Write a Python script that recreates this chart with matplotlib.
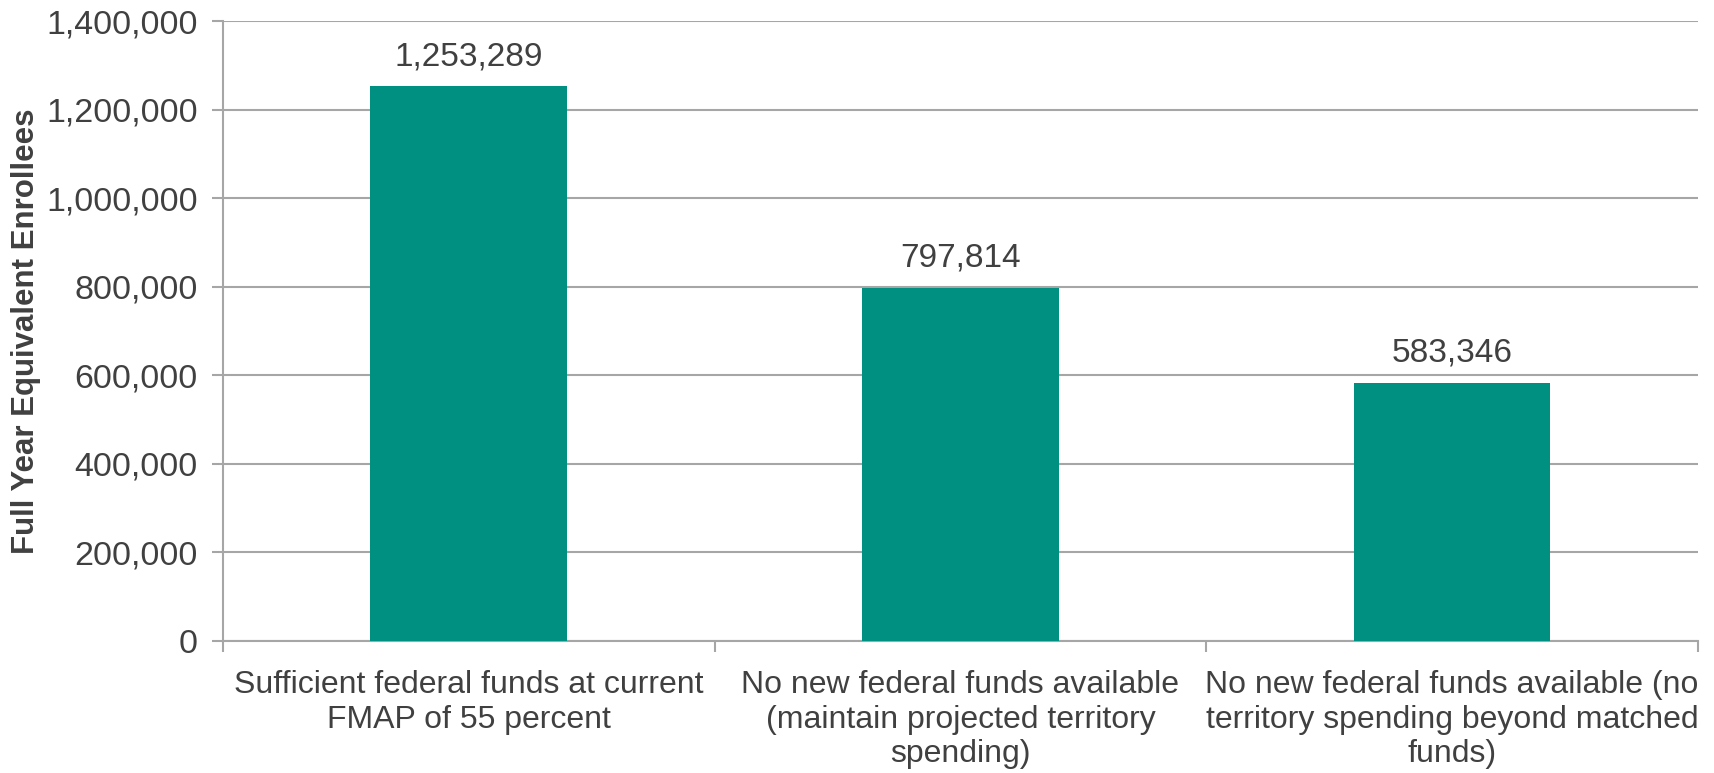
import matplotlib
matplotlib.use("Agg")
import matplotlib.pyplot as plt
from matplotlib.ticker import FuncFormatter, FixedLocator

categories = [
    "Sufficient federal funds at current\nFMAP of 55 percent",
    "No new federal funds available\n(maintain projected territory\nspending)",
    "No new federal funds available (no\nterritory spending beyond matched\nfunds)",
]
values = [1253289, 797814, 583346]
yticks = [0, 200000, 400000, 600000, 800000, 1000000, 1200000, 1400000]
ylabel = "Full Year Equivalent Enrollees"

bar_color = "#009081"
text_color = "#404040"
grid_color = "#A6A6A6"

plt.rcParams["font.family"] = ["Liberation Sans", "DejaVu Sans"]

fig = plt.figure(figsize=(17.15, 7.73), dpi=100)
ax = fig.add_axes([0.130, 0.1708, 0.860, 0.802])

x = list(range(len(categories)))
ax.bar(x, values, width=0.4, color=bar_color, zorder=3)

for xi, v in zip(x, values):
    ax.annotate(f"{v:,}", (xi, v), xytext=(0, 10), textcoords="offset points",
                ha="center", va="bottom", fontsize=24, color=text_color)

ax.set_xlim(-0.5, 2.5)
ax.set_ylim(0, 1400000)
ax.set_yticks(yticks)
ax.yaxis.set_major_formatter(FuncFormatter(lambda v, p: f"{int(v):,}"))
ax.yaxis.grid(True, color=grid_color, linewidth=1.5, zorder=0)
ax.set_axisbelow(True)

ax.set_xticks(x)
ax.set_xticklabels(categories, fontsize=23, color=text_color, linespacing=1.2)
ax.xaxis.set_minor_locator(FixedLocator([-0.5, 0.5, 1.5, 2.5]))
ax.tick_params(axis="x", which="major", length=0, pad=21)
ax.tick_params(axis="x", which="minor", length=8, width=1.5, color=grid_color)
ax.tick_params(axis="y", length=8, width=1.5, color=grid_color, labelsize=24.5,
               labelcolor=text_color, pad=10)

for s in ["top", "right"]:
    ax.spines[s].set_visible(False)
for s in ["left", "bottom"]:
    ax.spines[s].set_color(grid_color)
    ax.spines[s].set_linewidth(1.5)

ax.set_ylabel(ylabel, fontsize=22.5, fontweight="bold", color=text_color, labelpad=4)

fig.savefig("out.png", dpi=100)
